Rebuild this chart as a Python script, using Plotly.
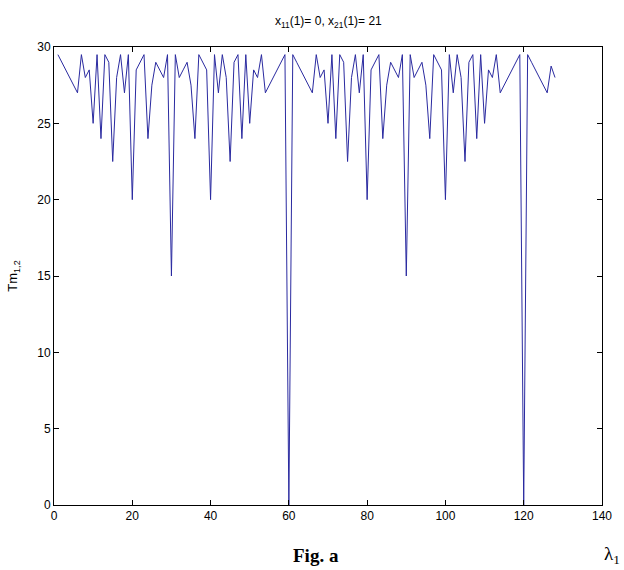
import plotly.graph_objects as go

# lambda index (x axis)
lam = list(range(1, 129))

# Tm_{1,2} values, x = 1..128
tm_1_60 = [29.5, 29, 28.5, 28, 27.5, 27, 29.5, 28, 28.5, 25,
           29.5, 24, 29.5, 29, 22.5, 28, 29.5, 27, 29.5, 20,
           28.5, 29, 29.5, 24, 27.5, 29, 28.5, 28, 29.5, 15,
           29.5, 28, 28.5, 29, 27.5, 24, 29.5, 29, 28.5, 20,
           29.5, 27, 29.5, 28, 22.5, 29, 29.5, 24, 29.5, 25,
           28.5, 28, 29.5, 27, 27.5, 28, 28.5, 29, 29.5, 0]
tm_61_120 = [29.5, 29, 28.5, 28, 27.5, 27, 29.5, 28, 28.5, 25,
             29.5, 24, 29.5, 29, 22.5, 28, 29.5, 27, 29.5, 20,
             28.5, 29, 29.5, 24, 27.5, 29, 28.5, 28, 29.5, 15,
             29.5, 28, 28.5, 29, 27.5, 24, 29.5, 29, 28.5, 20,
             29.5, 27, 29.5, 28, 22.5, 29, 29.5, 24, 29.5, 25,
             28.5, 28, 29.5, 27, 27.5, 28, 28.5, 29, 29.5, 0]
tm_121_128 = [29.5, 29, 28.5, 28, 27.5, 27, 28.75, 28]
tm = tm_1_60 + tm_61_120 + tm_121_128

x_ticks = [0, 20, 40, 60, 80, 100, 120, 140]
y_ticks = [0, 5, 10, 15, 20, 25, 30]

L, R, T, B = 54, 602, 47, 505
W, H = 624, 570

fig = go.Figure()
fig.add_trace(go.Scatter(x=lam, y=tm, mode="lines",
                         line=dict(color="#2a2aa0", width=1),
                         showlegend=False, hoverinfo="skip"))

axis_common = dict(showgrid=False, zeroline=False, showline=True,
                   linecolor="black", linewidth=1, mirror="ticks",
                   ticks="inside", ticklen=5, tickcolor="black",
                   tickfont=dict(family="Liberation Sans, Arial", size=12, color="black"))

fig.update_xaxes(range=[0, 140], tickvals=x_ticks, **axis_common)
fig.update_yaxes(range=[0, 30], tickvals=y_ticks,
                 title=dict(text="Tm<sub>1,2</sub>", standoff=16,
                            font=dict(family="Liberation Sans, Arial", size=13, color="black")),
                 **axis_common)

pw, ph = R - L, B - T
fig.update_layout(
    width=W, height=H,
    margin=dict(l=L, r=W - R, t=T, b=H - B),
    paper_bgcolor="white", plot_bgcolor="white",
    annotations=[
        dict(text="x<sub>11</sub>(1)= 0, x<sub>21</sub>(1)= 21", xref="paper", yref="paper",
             x=0.5, y=1.0, yshift=25, xanchor="center", yanchor="middle", showarrow=False,
             font=dict(family="Liberation Sans, Arial", size=12, color="black")),
        dict(text="<b>Fig. a</b>", xref="paper", yref="paper",
             x=(316 - L) / pw, y=(B - 555) / ph, xanchor="center", yanchor="middle",
             showarrow=False, font=dict(family="Liberation Serif, Times New Roman", size=19, color="black")),
        dict(text="λ<sub>1</sub>", xref="paper", yref="paper",
             x=(602 - L) / pw, y=(B - 555) / ph, xanchor="left", yanchor="middle",
             showarrow=False, font=dict(family="Liberation Serif, Times New Roman", size=19, color="black")),
    ],
)

fig.write_html("out.html", config={"displayModeBar": False},
               post_script="document.body.style.margin='0';")
